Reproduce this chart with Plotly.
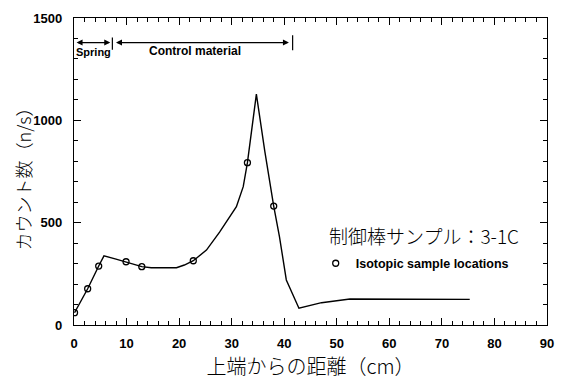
import plotly.graph_objects as go

# Curve (distance from top, cm) vs count rate (n/s)
line_x = [0.1, 2.6, 4.7, 5.7, 8.0, 9.9, 12.9, 14.7, 17.0, 19.5, 21.0, 22.7, 25.2, 27.7,
          30.9, 32.2, 33.0, 33.9, 34.7, 36.3, 38.0, 39.1, 40.4, 42.8, 47.1, 52.5, 75.3]
line_y = [60, 177, 288, 338, 322, 309, 285, 280, 279, 280, 293, 314, 366, 454,
          578, 676, 793, 960, 1128, 850, 581, 431, 220, 82, 109, 127, 125]

# Isotopic sample locations
sample_x = [0.1, 2.6, 4.7, 9.9, 12.9, 22.7, 33.0, 38.0]
sample_y = [60, 177, 288, 309, 285, 314, 793, 581]

x_ticks = [0, 10, 20, 30, 40, 50, 60, 70, 80, 90]
y_ticks = [0, 500, 1000, 1500]

jp = "Noto Sans CJK JP"
en = "Liberation Sans"

fig = go.Figure()
fig.add_trace(go.Scatter(x=line_x, y=line_y, mode="lines",
                         line=dict(color="black", width=1.4), showlegend=False,
                         hoverinfo="skip"))
fig.add_trace(go.Scatter(x=sample_x, y=sample_y, mode="markers",
                         marker=dict(symbol="circle-open", size=6, color="black",
                                     line=dict(width=1.3, color="black")),
                         name="<b>Isotopic sample locations</b>", showlegend=True))

axis_common = dict(showline=True, linecolor="black", linewidth=1.3, mirror="ticks",
                   ticks="inside", tickcolor="black", tickwidth=1.2, ticklen=7,
                   showgrid=False, zeroline=False, automargin=False,
                   tickfont=dict(family=en, size=13, color="black", weight="bold"))

fig.update_xaxes(range=[0, 90], tickvals=x_ticks, ticklabelstandoff=6,
                 minor=dict(dtick=2, ticks="inside", ticklen=4, tickcolor="black", tickwidth=1),
                 title=dict(text="上端からの距離（cm）",
                            font=dict(family=jp, size=20, color="black", weight=300),
                            standoff=2),
                 **axis_common)
fig.update_yaxes(range=[0, 1500], tickvals=y_ticks, ticklabelstandoff=8,
                 minor=dict(dtick=100, ticks="inside", ticklen=4, tickcolor="black", tickwidth=1),
                 **axis_common)

# y-axis title placed as a rotated annotation to match the reference position
fig.add_annotation(x=-0.108, y=0.49, xref="paper", yref="paper", xanchor="center",
                   yanchor="middle", textangle=-90, text="カウント数（n/s）", showarrow=False,
                   borderpad=0,
                   font=dict(family=jp, size=18, color="black", weight=300))

# Spring / Control material region markers
fig.add_annotation(x=6.9, y=1380, ax=0.2, ay=1380, xref="x", yref="y", axref="x", ayref="y",
                   text="", showarrow=True, arrowhead=2, arrowside="end+start",
                   arrowsize=1, arrowwidth=1.2, arrowcolor="black")
fig.add_annotation(x=40.9, y=1380, ax=7.7, ay=1380, xref="x", yref="y", axref="x", ayref="y",
                   text="", showarrow=True, arrowhead=2, arrowside="end+start",
                   arrowsize=1, arrowwidth=1.2, arrowcolor="black")
fig.add_shape(type="line", x0=7.3, x1=7.3, y0=1345, y1=1405, xref="x", yref="y",
              line=dict(color="black", width=1.2))
fig.add_shape(type="line", x0=41.6, x1=41.6, y0=1343, y1=1416, xref="x", yref="y",
              line=dict(color="black", width=1.2))
fig.add_annotation(x=3.7, y=1335, xref="x", yref="y", text="<b>Spring</b>", showarrow=False,
                   font=dict(family=en, size=11, color="black"))
fig.add_annotation(x=23.0, y=1338, xref="x", yref="y", text="<b>Control material</b>",
                   showarrow=False, font=dict(family=en, size=12, color="black"))

fig.add_annotation(x=0.535, y=0.29, xref="paper", yref="paper", xanchor="left", yanchor="middle",
                   text="制御棒サンプル：3-1C", showarrow=False,
                   font=dict(family=jp, size=19, color="black", weight=300))

# page body has an 8px default margin; compensate so the plot area lands at x 74-547, y 18-325
fig.update_layout(
    width=560, height=378,
    margin=dict(l=66, r=21, t=10, b=61),
    paper_bgcolor="white", plot_bgcolor="white",
    legend=dict(x=0.511, y=0.2, xanchor="left", yanchor="middle",
                bgcolor="rgba(0,0,0,0)", itemwidth=30,
                font=dict(family=en, size=12.5, color="black")),
)

fig.write_html("out.html")
